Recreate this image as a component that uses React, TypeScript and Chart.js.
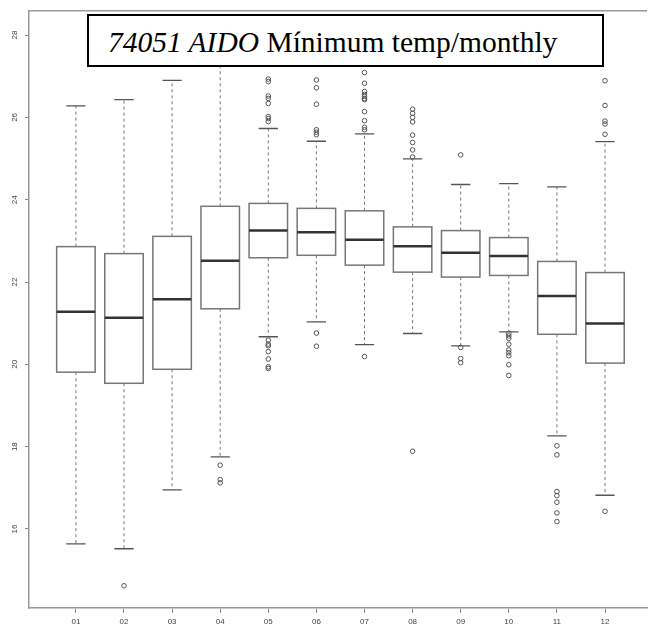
import React, { useEffect, useRef } from 'react';
import { Chart, registerables } from 'chart.js';

Chart.register(...registerables);

const months = ['01', '02', '03', '04', '05', '06', '07', '08', '09', '10', '11', '12'];
const lowerWhisker = [15.64, 15.52, 16.95, 17.75, 20.67, 21.03, 20.48, 20.75, 20.45, 20.79, 18.26, 16.82];
const q1 = [19.81, 19.54, 19.88, 21.35, 22.59, 22.65, 22.41, 22.24, 22.12, 22.16, 20.73, 20.03];
const median = [21.28, 21.13, 21.58, 22.52, 23.25, 23.21, 23.03, 22.87, 22.71, 22.63, 21.66, 20.99];
const q3 = [22.86, 22.69, 23.11, 23.84, 23.91, 23.79, 23.73, 23.34, 23.25, 23.08, 22.5, 22.23];
const upperWhisker = [26.28, 26.43, 26.9, 28.05, 25.73, 25.42, 25.6, 24.99, 24.37, 24.39, 24.31, 25.41];
const outliers: number[][] = [
  [],
  [14.62],
  [],
  [17.55, 17.2, 17.12],
  [26.93, 26.87, 26.52, 26.46, 26.34, 26.02, 25.97, 25.9, 20.59, 20.49, 20.45, 20.31, 20.13, 19.94, 19.9],
  [26.91, 26.72, 26.32, 25.7, 25.64, 25.58, 20.76, 20.44],
  [27.09, 26.83, 26.63, 26.56, 26.51, 26.46, 26.43, 26.14, 25.92, 25.76, 25.7, 20.19],
  [26.2, 26.1, 26.0, 25.89, 25.57, 25.39, 25.21, 25.04, 17.89],
  [25.09, 20.41, 20.14, 20.04],
  [20.75, 20.69, 20.63, 20.49, 20.35, 20.28, 20.21, 19.99, 19.73],
  [18.02, 17.8, 16.91, 16.81, 16.65, 16.39, 16.18],
  [26.89, 26.29, 25.91, 25.84, 25.59, 16.43],
];
const yTicks = [16, 18, 20, 22, 24, 26, 28];
const titleStation = '74051 AIDO';
const titleRest = 'Mínimum temp/monthly';

const boxPlugin = {
  id: 'boxDraw',
  beforeDatasetsDraw(chart: any) {
    const { ctx, scales, chartArea } = chart;
    const xs = scales.x;
    const ys = scales.y;
    ctx.save();
    ctx.beginPath();
    ctx.rect(chartArea.left, chartArea.top, chartArea.right - chartArea.left, chartArea.bottom - chartArea.top);
    ctx.clip();
    months.forEach((_, i) => {
      const cx = xs.getPixelForValue(i + 1);
      const half = xs.getPixelForValue(i + 1.4) - cx;
      const cap = half / 2;
      const yLw = ys.getPixelForValue(lowerWhisker[i]);
      const yQ1 = ys.getPixelForValue(q1[i]);
      const yMed = ys.getPixelForValue(median[i]);
      const yQ3 = ys.getPixelForValue(q3[i]);
      const yUw = ys.getPixelForValue(upperWhisker[i]);
      // whiskers
      ctx.setLineDash([3, 3]);
      ctx.strokeStyle = '#777';
      ctx.lineWidth = 1;
      ctx.beginPath();
      ctx.moveTo(cx, yQ3);
      ctx.lineTo(cx, yUw);
      ctx.moveTo(cx, yQ1);
      ctx.lineTo(cx, yLw);
      ctx.stroke();
      ctx.setLineDash([]);
      // caps
      ctx.strokeStyle = '#555';
      ctx.lineWidth = 1.3;
      ctx.beginPath();
      ctx.moveTo(cx - cap, yUw);
      ctx.lineTo(cx + cap, yUw);
      ctx.moveTo(cx - cap, yLw);
      ctx.lineTo(cx + cap, yLw);
      ctx.stroke();
      // box
      ctx.fillStyle = '#fff';
      ctx.fillRect(cx - half, yQ3, half * 2, yQ1 - yQ3);
      ctx.strokeStyle = '#777';
      ctx.lineWidth = 1.5;
      ctx.strokeRect(cx - half, yQ3, half * 2, yQ1 - yQ3);
      // median
      ctx.strokeStyle = '#333';
      ctx.lineWidth = 2.5;
      ctx.beginPath();
      ctx.moveTo(cx - half, yMed);
      ctx.lineTo(cx + half, yMed);
      ctx.stroke();
    });
    ctx.restore();
  },
  afterDraw(chart: any) {
    const { ctx, chartArea } = chart;
    ctx.save();
    ctx.strokeStyle = '#999';
    ctx.lineWidth = 1.5;
    ctx.beginPath();
    ctx.moveTo(chartArea.left, chartArea.top);
    ctx.lineTo(chartArea.right, chartArea.top);
    ctx.stroke();
    ctx.restore();
  },
};

export default function App() {
  const ref = useRef<HTMLCanvasElement | null>(null);
  useEffect(() => {
    if (!ref.current) return;
    const points: { x: number; y: number }[] = [];
    outliers.forEach((list, i) => list.forEach((v) => points.push({ x: i + 1, y: v })));
    const chart = new Chart(ref.current, {
      type: 'scatter',
      data: {
        datasets: [
          {
            label: 'outliers',
            data: points,
            pointStyle: 'circle',
            pointRadius: 2.3,
            pointBorderWidth: 1,
            pointBorderColor: '#555',
            pointBackgroundColor: 'rgba(0,0,0,0)',
            showLine: false,
          } as any,
        ],
      },
      options: {
        animation: false,
        responsive: false,
        maintainAspectRatio: false,
        layout: { padding: { top: 8, left: 0, right: 0, bottom: 0 } },
        plugins: { legend: { display: false }, tooltip: { enabled: false }, title: { display: false } },
        scales: {
          x: {
            type: 'linear',
            min: 0.025,
            max: 12.873,
            afterBuildTicks: (s: any) => {
              s.ticks = months.map((_, i) => ({ value: i + 1 }));
            },
            afterFit: (s: any) => {
              s.height = 22;
            },
            ticks: {
              callback: (v: any) => months[Math.round(Number(v)) - 1] ?? '',
              font: { family: 'Liberation Sans', size: 8 },
              color: '#444',
              padding: 4,
              maxRotation: 0,
              minRotation: 0,
              autoSkip: false,
            },
            grid: { display: true, drawOnChartArea: false, drawTicks: true, tickLength: 5, color: '#888', lineWidth: 1 },
            border: { display: true, color: '#999', width: 1.5 },
          },
          y: {
            type: 'linear',
            min: 14.08,
            max: 28.59,
            afterBuildTicks: (s: any) => {
              s.ticks = yTicks.map((v) => ({ value: v }));
            },
            afterFit: (s: any) => {
              s.width = 29;
            },
            ticks: {
              callback: (v: any) => String(v),
              font: { family: 'Liberation Sans', size: 8 },
              color: '#444',
              padding: 6,
              minRotation: 90,
              maxRotation: 90,
              crossAlign: 'center',
            } as any,
            grid: { display: true, drawOnChartArea: false, drawTicks: true, tickLength: 4, color: '#888', lineWidth: 1 },
            border: { display: true, color: '#999', width: 1.5 },
          },
        },
      },
      plugins: [boxPlugin],
    });
    return () => chart.destroy();
  }, []);

  return (
    <div style={{ position: 'absolute', left: 0, top: 0, width: 652, height: 630, background: '#fff', overflow: 'hidden' }}>
      <canvas ref={ref} width={652} height={630} style={{ width: 652, height: 630, display: 'block' }} />
      <div
        style={{
          position: 'absolute',
          left: 87,
          top: 14,
          width: 517,
          height: 53,
          boxSizing: 'border-box',
          border: '2px solid #000',
          background: '#fff',
          fontFamily: '"Liberation Serif", "Times New Roman", serif',
          fontSize: 29.5,
          lineHeight: '40px',
          paddingTop: 6,
          paddingLeft: 19,
          color: '#000',
          whiteSpace: 'nowrap',
        }}
      >
        <i>{titleStation}</i> {titleRest}
      </div>
    </div>
  );
}
